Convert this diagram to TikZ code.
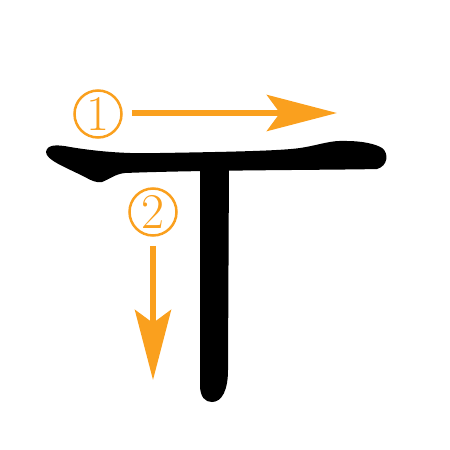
\documentclass[tikz,border=0pt]{standalone}
\usetikzlibrary{arrows.meta}
\definecolor{strokeorange}{RGB}{250,160,30}
\begin{document}
\begin{tikzpicture}[
      x=1pt, y=-1pt,
      num/.style={circle, draw=strokeorange, line width=2.5pt, text=strokeorange,
                  minimum size=47pt, inner sep=0pt,
                  font=\fontsize{50}{50}\selectfont},
      flow/.style={-{Stealth[length=70pt 0, width=36pt 0, inset=13pt 0]},
                   line width=6pt, draw=strokeorange, fill=strokeorange},
      ink/.style={fill=black}
    ]
    \useasboundingbox (0,0) rectangle (450,450);

    % Strich 2 (senkrecht)
    \fill[ink] (200,160) -- (200,385)
      .. controls (200,397) and (205,402) .. (212,402)
      .. controls (222,402) and (228,390) .. (228,370)
      -- (229,160) -- cycle;

    % Strich 1 (waagerecht)
    \fill[ink] (46,152)
      .. controls (47,145) and (55,144) .. (70,147)
      .. controls (100,152) and (130,154) .. (160,153)
      .. controls (220,152) and (280,151) .. (300,148)
      .. controls (320,145) and (330,140) .. (347,141)
      .. controls (362,141) and (376,144) .. (382,148)
      .. controls (389,153) and (388,166) .. (377,169)
      .. controls (340,170) and (200,170) .. (125,173)
      .. controls (115,174) and (110,179) .. (102,182)
      .. controls (97,183) and (92,181) .. (85,177)
      .. controls (65,167) and (46,160) .. cycle;

    % Nummern
    \node[num] (n1) at (98,114) {1};
    \node[num] (n2) at (153,212) {2};

    % Richtungen
    \coordinate (e1) at (337,113);
    \coordinate (e2) at (153,380);
    \draw[flow] ([xshift=9pt]n1.east |- e1) -- (e1);
    \draw[flow] ([yshift=-9pt]n2.south) -- (e2);
  \end{tikzpicture}
\end{document}
